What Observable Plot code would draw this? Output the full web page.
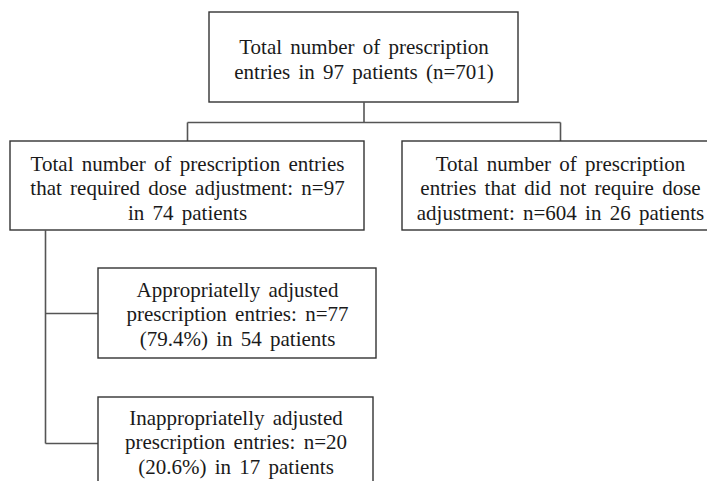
<!DOCTYPE html>
<html>
<head>
<meta charset="utf-8">
<script src="https://cdn.jsdelivr.net/npm/d3@7"></script>
<script src="https://cdn.jsdelivr.net/npm/@observablehq/plot@0.6"></script>
<style>
  html, body { margin: 0; padding: 0; background: #fff; }
  #chart svg { display: block; }
  #chart text { word-spacing: 3px; }
</style>
</head>
<body>
<div id="chart"></div>
<script>
// ---- Data (text content of the flowchart) ----
const nodeIds = ["total", "required", "notRequired", "appropriate", "inappropriate"];
const nodeLabels = [
  "Total number of prescription\nentries in 97 patients (n=701)",
  "Total number of prescription entries\nthat required dose adjustment: n=97\nin 74 patients",
  "Total number of prescription\nentries that did not require dose\nadjustment: n=604 in 26 patients",
  "Appropriatelly adjusted\nprescription entries: n=77\n(79.4%) in 54 patients",
  "Inappropriatelly adjusted\nprescription entries: n=20\n(20.6%) in 17 patients"
];
const entryCounts = [701, 97, 604, 77, 20];
const patientCounts = [97, 74, 26, 54, 17];

// ---- Layout (positions in page units) ----
const boxX1 = [209, 10, 402, 98, 98];
const boxX2 = [518, 364, 718, 376, 373];
const boxY1 = [12, 141, 141, 268, 397];
const boxY2 = [102, 230, 230, 358, 487];

const nodes = nodeIds.map((id, i) => ({
  id, label: nodeLabels[i], entries: entryCounts[i], patients: patientCounts[i],
  x1: boxX1[i], x2: boxX2[i], y1: boxY1[i], y2: boxY2[i],
  cx: (boxX1[i] + boxX2[i]) / 2, cy: (boxY1[i] + boxY2[i]) / 2
}));
const byId = Object.fromEntries(nodes.map(d => [d.id, d]));

const busY = 122;      // horizontal bus under the top box
const trunkX = 45;     // vertical trunk on the left
const branch2Y = 443;  // lower branch height
const connectors = [
  {x1: byId.total.cx, y1: byId.total.y2, x2: byId.total.cx, y2: busY},
  {x1: byId.required.cx, y1: busY, x2: byId.notRequired.cx, y2: busY},
  {x1: byId.required.cx, y1: busY, x2: byId.required.cx, y2: byId.required.y1},
  {x1: byId.notRequired.cx, y1: busY, x2: byId.notRequired.cx, y2: byId.notRequired.y1},
  {x1: trunkX, y1: byId.required.y2, x2: trunkX, y2: branch2Y},
  {x1: trunkX, y1: byId.appropriate.cy, x2: byId.appropriate.x1, y2: byId.appropriate.cy},
  {x1: trunkX, y1: branch2Y, x2: byId.inappropriate.x1, y2: branch2Y}
];

// text block centres (inside each box)
const textCY = [58, 187, 187, 313, 441];

const W = 707, H = 481;
const chart = Plot.plot({
  width: W,
  height: H,
  margin: 0,
  x: {domain: [0, W], range: [0, W], axis: null},
  y: {domain: [0, H], range: [0, H], axis: null},
  style: {background: "#fff"},
  marks: [
    Plot.link(connectors, {x1: "x1", y1: "y1", x2: "x2", y2: "y2", stroke: "#555", strokeWidth: 1.6}),
    Plot.rect(nodes, {x1: "x1", x2: "x2", y1: "y1", y2: "y2", fill: "#fff", stroke: "#333", strokeWidth: 1.4}),
    Plot.text(nodes, {
      x: "cx", y: (d, i) => textCY[i], text: "label",
      fontFamily: "Liberation Serif",
      fontSize: 21, lineHeight: 1.17, fill: "#1a1a1a",
      textAnchor: "middle"
    })
  ]
});
document.getElementById("chart").appendChild(chart);
</script>
</body>
</html>
